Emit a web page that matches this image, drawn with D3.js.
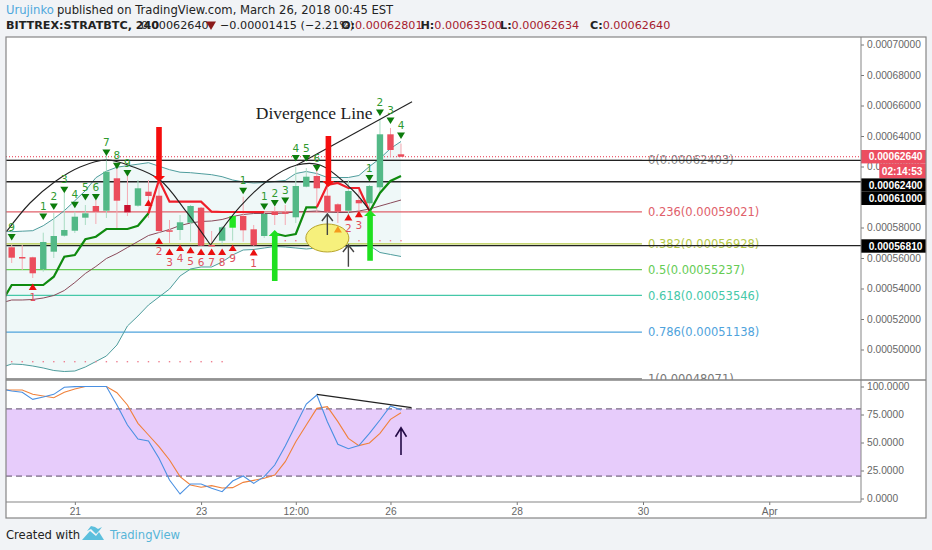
<!DOCTYPE html>
<html>
<head>
<meta charset="utf-8">
<script src="https://cdnjs.cloudflare.com/ajax/libs/d3/7.8.5/d3.min.js"></script>
<style>
  html, body { margin: 0; padding: 0; background: #f1f3f6; }
  svg { display: block; }
  text { font-family: "DejaVu Sans", sans-serif; }
  .axis text { font-family: "Liberation Sans", sans-serif; font-size: 10.2px; fill: #666; }
  .axis path { display: none; }
  .axis line { stroke: #777; }
</style>
</head>
<body>
<svg id="chart" width="932" height="550"></svg>
<script>
// prices are in satoshi (1e-8 BTC), one row per 4h bar
const opens  = [56702,56066,56046,55259,56414,57463,57790,58643,59410,59102,61226,59476,59430,60348,60085,57817,57836,58315,59299,56853,57135,57987,58754,57882,57443,59036,58997,58669,60676,61377,60085,59522,59102,59803,59587,60636,64111,62801];
const highs  = [56853,56853,56086,57659,58951,60263,59036,59476,59804,62754,61987,61659,61115,61115,60918,58492,58820,59476,59345,57771,58099,58820,60020,58164,59036,59364,59476,61987,61902,61771,60676,59587,61115,60459,60787,65049,64525,63500];
const lows   = [55673,55214,54689,55102,56000,57397,57640,58164,58230,58623,57836,58754,59364,58623,57640,56984,57180,57069,56787,56741,56853,57135,57069,56787,57312,58164,58164,58295,60636,59036,58951,58295,58492,58708,59148,60348,62643,62634];
const closes = [56020,56000,54997,57050,57443,57836,58708,58931,59036,61659,59758,58997,60571,60066,57771,57771,58341,59410,56807,56807,58013,58754,57817,56833,58886,58820,58951,60721,61331,60571,59036,59036,60394,59587,60721,64111,63082,62640];
const specialBarColors = { 11: '#c8102e', 21: '#22e622' };

// line series start one bar before the first candle, they run off the left edge
const bbUpper = [57800,57725,57758,57790,58118,58577,59102,59758,60414,61266,61692,61954,62052,62151,62249,62020,61790,61626,61594,61528,61463,61331,61115,60984,60918,60950,61016,61081,61541,61672,61541,61279,61279,61279,61410,62000,62525,63180,63640];
const bbMiddle = [53050,53246,53246,53279,53377,53541,53869,54394,54984,55443,55967,56295,56689,57082,57475,57672,57869,58131,58295,58394,58426,58525,58722,58853,58918,58918,58918,58951,59016,59049,59082,59016,58984,58984,59082,59213,59410,59606,59803];
const bbLower = [48820,49050,49016,48918,48787,48623,48557,48590,48852,49213,49574,50295,51541,52197,52918,53443,53967,54820,55279,55410,55410,55738,56197,56525,56558,56656,56754,56721,56656,56590,56656,56721,56754,56787,56787,56820,56361,56230,56100];

const trendUp = [53050,54230,54230,54230,54230,54774,56086,56197,57227,57397,57902,57902,57902,58118,58931,null,null,null,null,null,null,null,null,null,null,null,57607,57443,57574,59325,59325,null,null,null,null,59017,60263,61049,61377];
const trendDown = [null,null,null,null,null,null,null,null,null,null,null,null,null,null,58931,61115,59692,59692,59692,59692,59036,59017,59017,59017,59017,59017,null,null,null,null,59325,60787,60918,60590,60590,59082,null,null,null];

const stochK = [97.8,96,94.8,88.5,90.6,93,99.3,99.9,100,100,100,83.5,65.6,53.1,51.3,35.9,16.5,4,13,13,9.1,6.1,15.6,20.1,13.5,19.5,29.9,46.9,65.6,84.4,92.4,68.6,48.4,44.5,47.2,58.2,70.1,82.6,79];
const stochD = [96.9,96.9,96.9,93,91.5,90,94.8,97.8,100,100,100,94.5,83.5,67.1,56.7,46.3,34.4,19.5,12.1,10,11.5,9.4,9.7,14.4,16.2,18,21,32.9,50.7,65.6,80.5,82,68.6,53.7,47.2,49.6,58.2,70.7,76.6];

// TD sequential marks
const sellLabels = ['9','1','2','3','4','5','6','7','8','9','1','1','2','3','4','5','6','1','2','3','4'];
const sellBars = [0,3,4,5,6,7,8,9,10,11,22,24,25,26,27,28,29,34,35,36,37];
const sellPrices = [57358,58708,59364,60459,59476,59981,59981,62905,62033,61554,60394,59364,59587,59758,62538,62538,61882,61226,65528,65003,64020];
const buyLabels = ['1','','2','3','4','5','6','7','8','9','1','2','3'];
const buyBars = [2,13,14,15,16,17,18,19,20,21,23,32,33];
const buyPrices = [54119,59626,57135,56414,56676,56525,56414,56414,56414,56676,56374,58669,58886];

const dotRows = [
  { price: 49201, bars: d3.range(0, 21) },
  { price: 57135, bars: [25,26,27,28,29,30,32,33,34,35,36,37] }
];

const fibLabels = ['0','0.236','0.382','0.5','0.618','0.786','1'];
const fibPrices = [62403,59021,56928,55237,53546,51138,48071];
const fibColors = ['#8c8c8c','#e0606a','#b4c846','#66cc55','#45c8a8','#4fa3dc','#777'];
const fibEndBar = 59.9;

const blackLevels = [62400,61000,56810];

const arcBars1 = [-0.5,1.74,4.1,6.5,9,11.5,14.1,16.6,18.9];
const arcPrices1 = [57725,59607,61003,61967,62426,61987,61115,59036,56853];
const arcBars2 = [18.9,21.7,24.4,27.1,29.3,32.4,34.1];
const arcPrices2 = [56853,59364,61115,62099,62099,60459,59036];
const divBars = [27.1,38.05];
const divPrices = [62099,66249];
const stochDivBars = [29,38];
const stochDivValues = [93,81.1];

const thickArrows = [
  { bar: 14, from: 64590, to: 60984, color: '#f50d0d' },
  { bar: 30.1, from: 64000, to: 60656, color: '#f50d0d' },
  { bar: 25, from: 54492, to: 57836, color: '#1fe01f' },
  { bar: 34.06, from: 55823, to: 59148, color: '#1fe01f' }
];
const thinArrows = [
  { bar: 30, from: 57509, to: 58886 },
  { bar: 32, from: 55430, to: 56853 }
];

const priceTicks = d3.range(50000, 70001, 2000);
const stochTicks = [0,25,50,75,100];
const xTickBars = [6,18,27,36,48,60,72];
const xTickLabels = ['21','23','12:00','26','28','30','Apr'];

const paneLeft = 6, paneRight = 861, outerRight = 926, paneTop = 37, paneBottom = 380, plotBottom = 502, outerBottom = 518;

const x = d3.scaleLinear().domain([0, 37]).range([11.7, 401]);
const y = d3.scaleLinear().domain([48000, 70000]).range([380, 44.5]);
const yS = d3.scaleLinear().domain([0, 100]).range([498.5, 386.5]);
const fmt = d => (d / 1e8).toFixed(8);

const svg = d3.select('#chart');
const defs = svg.append('defs');
defs.append('clipPath').attr('id', 'paneClip').append('rect')
  .attr('x', paneLeft).attr('y', paneTop).attr('width', paneRight - paneLeft).attr('height', paneBottom - paneTop);
defs.append('clipPath').attr('id', 'stochClip').append('rect')
  .attr('x', paneLeft).attr('y', paneBottom).attr('width', paneRight - paneLeft).attr('height', plotBottom - paneBottom);

svg.append('rect').attr('x', paneLeft).attr('y', paneTop).attr('width', outerRight - paneLeft)
  .attr('height', outerBottom - paneTop).attr('fill', '#fff');

const pane = svg.append('g').attr('clip-path', 'url(#paneClip)');

// bollinger fill + lines
const lineBar = (d, i) => x(i - 1);
pane.append('path').datum(bbUpper)
  .attr('fill', '#eaf5f5').attr('fill-opacity', 0.75)
  .attr('d', d3.area().x(lineBar).y1(d => y(d)).y0((d, i) => y(bbLower[i])));

// fib levels
fibPrices.forEach((p, i) => {
  pane.append('line').attr('x1', paneLeft).attr('x2', x(fibEndBar))
    .attr('y1', y(p)).attr('y2', y(p))
    .attr('stroke', fibColors[i]).attr('stroke-width', 1.2);
  pane.append('text').attr('x', x(fibEndBar) + 6).attr('y', y(p)).attr('dy', '0.36em')
    .attr('font-size', 11.5).attr('fill', fibColors[i])
    .text(`${fibLabels[i]}(${fmt(p)})`);
});

const priceLine = d3.line().defined(d => d !== null).x(lineBar).y(d => y(d));
[[bbUpper, '#4f9d9d'], [bbLower, '#4f9d9d'], [bbMiddle, '#8a4a5a']].forEach(s => {
  pane.append('path').datum(s[0]).attr('fill', 'none').attr('stroke', s[1])
    .attr('stroke-width', 1).attr('d', priceLine);
});

// drawn horizontal levels
blackLevels.forEach(p => {
  pane.append('line').attr('x1', paneLeft).attr('x2', paneRight).attr('y1', y(p)).attr('y2', y(p))
    .attr('stroke', '#222').attr('stroke-width', 1.3);
});
pane.append('line').attr('x1', paneLeft).attr('x2', paneRight)
  .attr('y1', y(closes[37])).attr('y2', y(closes[37]))
  .attr('stroke', '#e8304a').attr('stroke-width', 1).attr('stroke-dasharray', '1 2');

// dotted rows
dotRows.forEach(r => {
  pane.selectAll(null).data(r.bars).enter().append('rect')
    .attr('x', d => x(d) - 0.7).attr('y', y(r.price) - 0.7)
    .attr('width', 1.4).attr('height', 1.4).attr('fill', '#ee7f90');
});

// candles
const candles = pane.selectAll('.candle').data(opens).enter().append('g').attr('class', 'candle');
const isUp = i => closes[i] >= opens[i];
const barColor = i => specialBarColors[i] || (isUp(i) ? '#53b987' : '#eb4d5c');
candles.append('line')
  .attr('x1', (d, i) => x(i)).attr('x2', (d, i) => x(i))
  .attr('y1', (d, i) => y(highs[i])).attr('y2', (d, i) => y(lows[i]))
  .attr('stroke', (d, i) => isUp(i) ? '#a9dcc3' : '#f5a9b2').attr('stroke-width', 1);
candles.append('rect')
  .attr('x', (d, i) => x(i) - 3.2).attr('width', 6.4)
  .attr('y', (d, i) => Math.min(y(opens[i]), y(closes[i])))
  .attr('height', (d, i) => Math.max(1.5, Math.abs(y(opens[i]) - y(closes[i]))))
  .attr('fill', (d, i) => barColor(i));

// trend steps
pane.append('path').datum(trendUp).attr('fill', 'none').attr('stroke', '#0f8a0f')
  .attr('stroke-width', 2.2).attr('d', priceLine);
pane.append('path').datum(trendDown).attr('fill', 'none').attr('stroke', '#ef1f2a')
  .attr('stroke-width', 2.2).attr('d', priceLine);

// hand drawn arcs and the divergence line
const curve = d3.line().x(d => x(d[0])).y(d => y(d[1])).curve(d3.curveCatmullRom);
[d3.zip(arcBars1, arcPrices1), d3.zip(arcBars2, arcPrices2)].forEach(a => {
  pane.append('path').datum(a).attr('fill', 'none').attr('stroke', '#222')
    .attr('stroke-width', 1.1).attr('d', curve);
});
pane.append('line')
  .attr('x1', x(divBars[0])).attr('y1', y(divPrices[0]))
  .attr('x2', x(divBars[1])).attr('y2', y(divPrices[1]))
  .attr('stroke', '#222').attr('stroke-width', 1.1);

// ellipse goes over the candles
const ellipseBar = 30, ellipsePrice = 57312;
pane.append('ellipse').attr('cx', x(ellipseBar)).attr('cy', y(ellipsePrice))
  .attr('rx', 21.5).attr('ry', 14)
  .attr('fill', '#f6f07c').attr('stroke', '#b7a52c').attr('stroke-width', 1);

// td sequential
const tri = (cx, cy, up) => up
  ? `M${cx - 4},${cy + 3.2}L${cx + 4},${cy + 3.2}L${cx},${cy - 3.2}Z`
  : `M${cx - 4},${cy - 3.2}L${cx + 4},${cy - 3.2}L${cx},${cy + 3.2}Z`;

sellBars.forEach((b, i) => {
  pane.append('path').attr('d', tri(x(b), y(sellPrices[i]), false)).attr('fill', '#0c7c0c');
  pane.append('text').attr('x', x(b)).attr('y', y(sellPrices[i]) - 10.5).attr('dy', '0.36em')
    .attr('text-anchor', 'middle').attr('font-size', 10.5).attr('fill', '#2f9a2f').text(sellLabels[i]);
});
buyBars.forEach((b, i) => {
  pane.append('path').attr('d', tri(x(b), y(buyPrices[i]), true)).attr('fill', '#ea1010');
  pane.append('text').attr('x', x(b)).attr('y', y(buyPrices[i]) + 11).attr('dy', '0.36em')
    .attr('text-anchor', 'middle').attr('font-size', 10.5).attr('fill', '#e0505c').text(buyLabels[i]);
});
const warnBar = 31, warnPrice = 57882;
pane.append('path').attr('d', tri(x(warnBar), y(warnPrice), true)).attr('fill', '#f59a1c');

// arrows
thickArrows.forEach(a => {
  const cx = x(a.bar), y0 = y(a.from), y1 = y(a.to), dir = y1 > y0 ? 1 : -1;
  pane.append('path').attr('fill', a.color)
    .attr('d', `M${cx - 2.8},${y0}L${cx + 2.8},${y0}L${cx + 2.8},${y1 - dir * 6}L${cx + 6},${y1 - dir * 6}L${cx},${y1}L${cx - 6},${y1 - dir * 6}L${cx - 2.8},${y1 - dir * 6}Z`);
});
thinArrows.forEach(a => {
  const cx = x(a.bar), y0 = y(a.from), y1 = y(a.to);
  pane.append('path').attr('fill', 'none').attr('stroke', '#444').attr('stroke-width', 1.4)
    .attr('d', `M${cx},${y0}L${cx},${y1}M${cx - 5.5},${y1 + 7}L${cx},${y1}L${cx + 5.5},${y1 + 7}`);
});

const labelBar = 23.2, labelPrice = 65100;
pane.append('text').attr('x', x(labelBar)).attr('y', y(labelPrice))
  .style('font-family', '"Liberation Serif", serif').attr('font-size', 17.5).attr('fill', '#222')
  .text('Divergence Line');

// stochastic pane
const stoch = svg.append('g').attr('clip-path', 'url(#stochClip)');
const bandTop = 80, bandBottom = 20;
stoch.append('rect').attr('x', paneLeft).attr('width', paneRight - paneLeft)
  .attr('y', yS(bandTop)).attr('height', yS(bandBottom) - yS(bandTop)).attr('fill', '#e7ccfb');
[bandTop, bandBottom].forEach(v => {
  stoch.append('line').attr('x1', paneLeft).attr('x2', paneRight).attr('y1', yS(v)).attr('y2', yS(v))
    .attr('stroke', '#5a4a66').attr('stroke-width', 1).attr('stroke-dasharray', '6 4');
});
const stochLine = d3.line().x(lineBar).y(d => yS(d));
stoch.append('path').datum(stochD).attr('fill', 'none').attr('stroke', '#f0813a')
  .attr('stroke-width', 1.1).attr('d', stochLine);
stoch.append('path').datum(stochK).attr('fill', 'none').attr('stroke', '#4a90e2')
  .attr('stroke-width', 1.1).attr('d', stochLine);
stoch.append('line')
  .attr('x1', x(stochDivBars[0])).attr('y1', yS(stochDivValues[0]))
  .attr('x2', x(stochDivBars[1])).attr('y2', yS(stochDivValues[1]))
  .attr('stroke', '#222').attr('stroke-width', 1.1);
const upBar = 37, upFrom = 38.8, upTo = 63.2;
stoch.append('path').attr('fill', 'none').attr('stroke', '#230a45').attr('stroke-width', 1.6)
  .attr('d', `M${x(upBar)},${yS(upFrom)}L${x(upBar)},${yS(upTo)}M${x(upBar) - 5.5},${yS(upTo) + 9}L${x(upBar)},${yS(upTo)}L${x(upBar) + 5.5},${yS(upTo) + 9}`);

// axes
const axisPrice = d3.axisRight(y).tickValues(priceTicks).tickFormat(fmt).tickSize(3).tickPadding(3);
svg.append('g').attr('class', 'axis').attr('transform', `translate(${paneRight},0)`).call(axisPrice);
const axisStoch = d3.axisRight(yS).tickValues(stochTicks).tickFormat(d => d.toFixed(4)).tickSize(3).tickPadding(3);
svg.append('g').attr('class', 'axis').attr('transform', `translate(${paneRight},0)`).call(axisStoch);
const axisTime = d3.axisBottom(x).tickValues(xTickBars).tickFormat((d, i) => xTickLabels[i]).tickSize(3).tickPadding(3);
svg.append('g').attr('class', 'axis').attr('transform', `translate(0,${plotBottom})`).call(axisTime);

// price labels on the axis
const axisLabel = (text, y0, h, x0, color) => {
  svg.append('rect').attr('x', x0).attr('y', y0).attr('width', outerRight - x0).attr('height', h).attr('fill', color);
  svg.append('text').attr('x', outerRight - 3.5).attr('y', y0 + h / 2).attr('dy', '0.36em')
    .attr('text-anchor', 'end').style('font-family', '"Liberation Sans", sans-serif')
    .attr('font-size', 10.2).attr('font-weight', 'bold').attr('fill', '#fff').text(text);
};
axisLabel(fmt(closes[37]), 150, 13.4, paneRight, '#ec4d60');
axisLabel('02:14:53', 163.4, 15, 879.3, '#ec4d60');
axisLabel(fmt(blackLevels[0]), 178.4, 13.3, paneRight, '#000');
axisLabel(fmt(blackLevels[1]), 191.7, 13.3, paneRight, '#000');
axisLabel(fmt(blackLevels[2]), 239.3, 13.4, paneRight, '#000');

// frame
const frame = svg.append('g').attr('fill', 'none').attr('stroke', '#858585');
frame.append('rect').attr('x', paneLeft).attr('y', paneTop).attr('width', outerRight - paneLeft)
  .attr('height', outerBottom - paneTop).attr('stroke-width', 1.2);
frame.append('line').attr('x1', paneRight).attr('x2', paneRight).attr('y1', paneTop).attr('y2', plotBottom).attr('stroke-width', 1);
frame.append('line').attr('x1', paneLeft).attr('x2', paneRight).attr('y1', plotBottom).attr('y2', plotBottom).attr('stroke-width', 1.2);
frame.append('line').attr('x1', paneLeft).attr('x2', outerRight).attr('y1', paneBottom).attr('y2', paneBottom).attr('stroke-width', 1.4);

// header
svg.append('text').attr('x', 6).attr('y', 14).attr('font-size', 11.6).attr('fill', '#4fa8dc').text('Urujinko');
svg.append('text').attr('x', 57).attr('y', 14).attr('font-size', 11.6).attr('fill', '#222')
  .text('published on TradingView.com, March 26, 2018 00:45 EST');

const ohlc = [['O:', opens[37], 341], ['H:', highs[37], 420.5], ['L:', lows[37], 500], ['C:', closes[37], 590]];
svg.append('text').attr('x', 6).attr('y', 29).attr('font-size', 11.2).attr('font-weight', 'bold').attr('fill', '#222')
  .text('BITTREX:STRATBTC, 240');
svg.append('text').attr('x', 141).attr('y', 29).attr('font-size', 11.2).attr('fill', '#222').text(fmt(closes[37]));
svg.append('path').attr('d', 'M206,21.5L216,21.5L211,30Z').attr('fill', '#8b1a1a');
svg.append('text').attr('x', 220).attr('y', 29).attr('font-size', 11.2).attr('fill', '#222').text('\u22120.00001415 (\u22122.21%)');
ohlc.forEach(o => {
  const t = svg.append('text').attr('x', o[2]).attr('y', 29).attr('font-size', 11.2);
  t.append('tspan').attr('font-weight', 'bold').attr('fill', '#222').text(o[0]);
  t.append('tspan').attr('fill', '#a61c2e').text(fmt(o[1]));
});

// footer
svg.append('text').attr('x', 6).attr('y', 539).attr('font-size', 11.6).attr('fill', '#222').text('Created with');
svg.append('path').attr('fill', '#5cbfdd')
  .attr('d', 'M82,540L90,531L96,536L99,532L104,540Z M87,531L91,526L95,527L98,529L102,527L99,531L96,534L91,529Z');
svg.append('text').attr('x', 110).attr('y', 539).attr('font-size', 11.6).attr('fill', '#57b5d8').text('TradingView');
</script>
</body>
</html>
